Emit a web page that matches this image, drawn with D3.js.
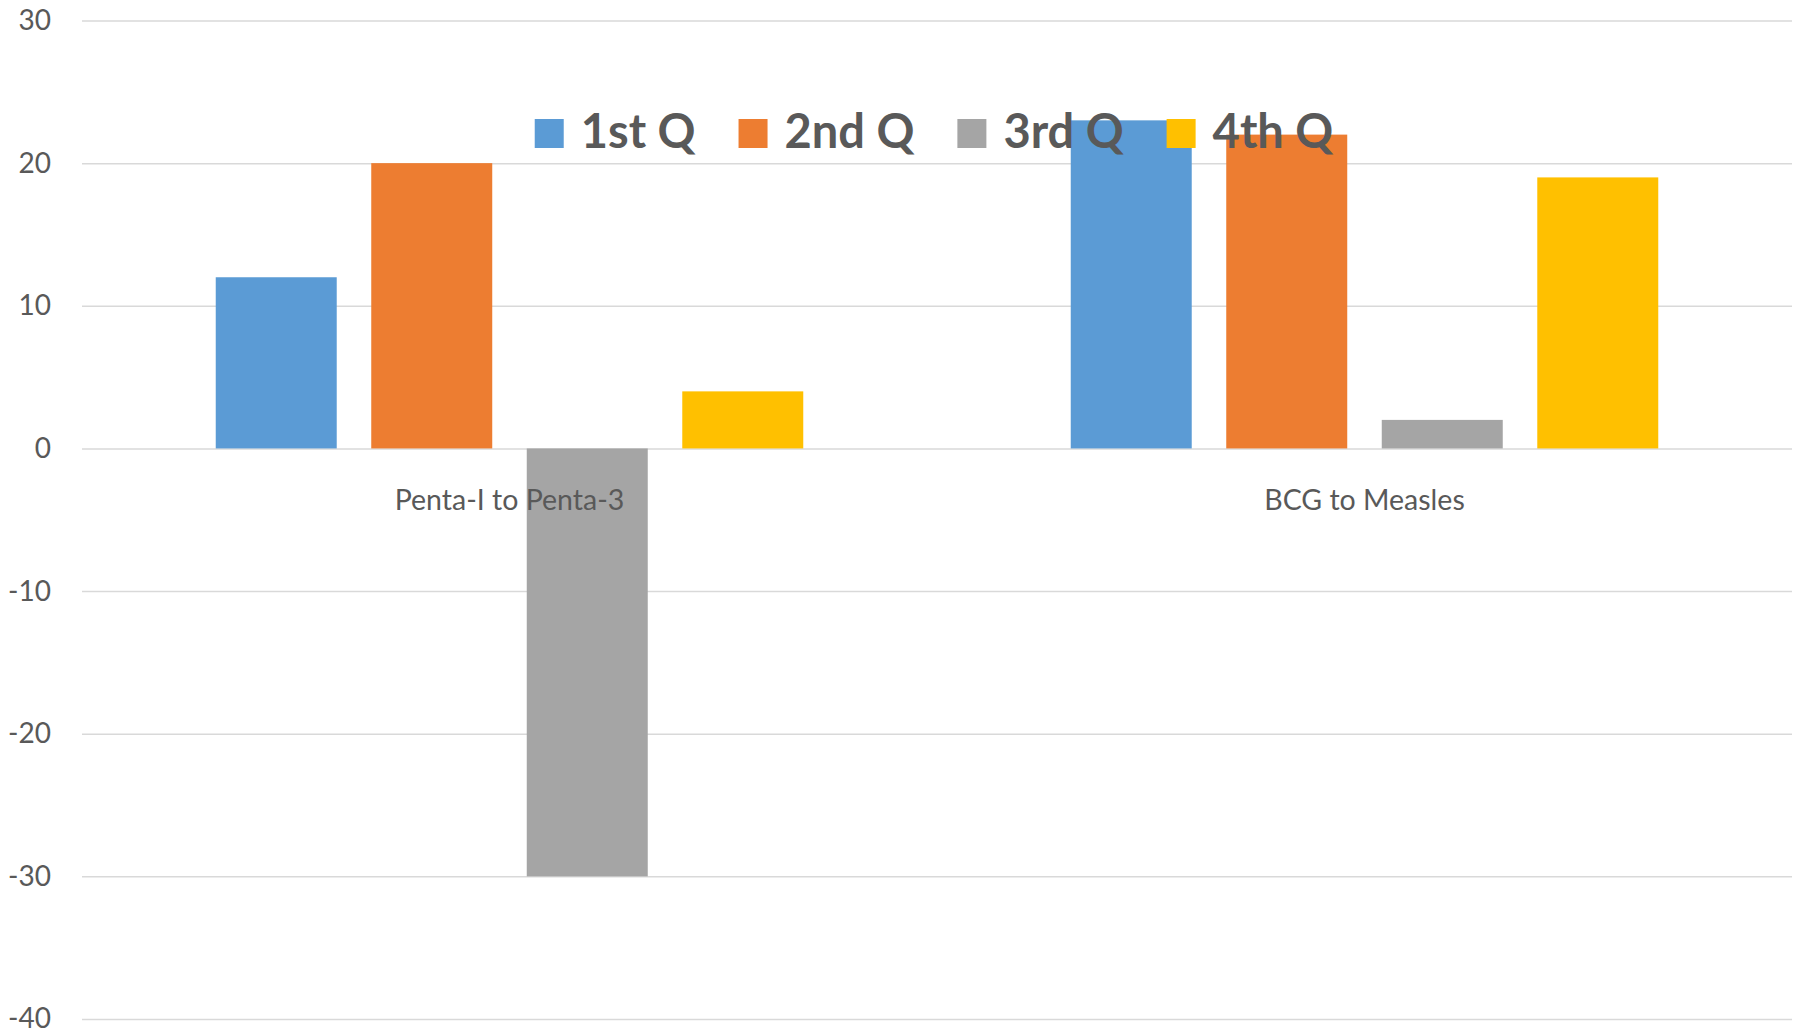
<!DOCTYPE html>
<html lang="en">
<head>
    <meta charset="UTF-8">
    <title>Quarterly drop-out rates</title>
    <script src="https://d3js.org/d3.v7.min.js"></script>
    <style>
        body {
            margin: 0;
            background: #fff;
            font-family: Lato, "Open Sans", sans-serif;
        }
        #chart text {
            fill: #595959;
        }
    </style>
</head>
<body>
    <div id="chart"></div>

    <script>
        // data
        const categories = ['Penta-I to Penta-3', 'BCG to Measles'];
        const series = ['1st Q', '2nd Q', '3rd Q', '4th Q'];
        const q1 = [12, 23];
        const q2 = [20, 22];
        const q3 = [-30, 2];
        const q4 = [4, 19];
        const yTicks = [-40, -30, -20, -10, 0, 10, 20, 30];
        const colors = ['#5B9BD5', '#ED7D31', '#A5A5A5', '#FFC000'];

        const values = [q1, q2, q3, q4];
        const width = 1812, height = 1036;
        const plotLeft = 82, plotRight = 1792, plotTop = 20.5, plotBottom = 1019;

        const svg = d3.select('#chart').append('svg')
            .attr('width', width)
            .attr('height', height);

        const x0 = d3.scaleBand().domain(categories).range([plotLeft, plotRight]);
        const x1 = d3.scaleBand().domain(series)
            .range([0, x0.bandwidth()])
            .paddingInner(0.222)
            .paddingOuter(0.86);
        const y = d3.scaleLinear().domain([-40, 30]).range([plotBottom, plotTop]);

        // gridlines + tick labels (plain hyphen for negatives, like the original)
        const yAxis = svg.append('g')
            .attr('transform', `translate(${plotLeft},0)`)
            .call(d3.axisLeft(y)
                .tickValues(yTicks)
                .tickSize(-(plotRight - plotLeft))
                .tickPadding(31)
                .tickFormat(d => String(d)));
        yAxis.select('.domain').remove();
        yAxis.selectAll('line').attr('stroke', '#D9D9D9').attr('stroke-width', 1.5);
        yAxis.selectAll('text')
            .attr('font-family', 'Lato, sans-serif')
            .attr('font-size', 28)
            .style('fill', '#595959');

        // bars
        const rows = [];
        categories.forEach((c, i) => {
            series.forEach((s, j) => rows.push({ cat: c, s: s, v: values[j][i], color: colors[j] }));
        });

        svg.append('g').selectAll('rect')
            .data(rows)
            .join('rect')
            .attr('x', d => x0(d.cat) + x1(d.s))
            .attr('width', x1.bandwidth())
            .attr('y', d => y(Math.max(0, d.v)))
            .attr('height', d => Math.abs(y(d.v) - y(0)))
            .attr('fill', d => d.color);

        // category labels
        svg.append('g').selectAll('text')
            .data(categories)
            .join('text')
            .attr('x', d => x0(d) + x0.bandwidth() / 2)
            .attr('y', 510)
            .attr('text-anchor', 'middle')
            .attr('font-size', 28.5)
            .text(d => d);

        // legend, drawn on top like the original
        const legend = svg.append('g');
        const items = legend.selectAll('g')
            .data(series)
            .join('g');
        items.append('rect')
            .attr('width', 29)
            .attr('height', 29)
            .attr('y', 119)
            .attr('fill', (d, i) => colors[i]);
        items.append('text')
            .attr('x', 46)
            .attr('y', 148)
            .attr('font-size', 47)
            .attr('font-weight', 'bold')
            .text(d => d);

        let pos = 0;
        items.each(function() {
            const w = d3.select(this).select('text').node().getComputedTextLength();
            d3.select(this).attr('transform', `translate(${pos},0)`);
            pos += 46 + w + 43;
        });
        const total = pos - 43;
        legend.attr('transform', `translate(${934 - total / 2},0)`);
    </script>
</body>
</html>
